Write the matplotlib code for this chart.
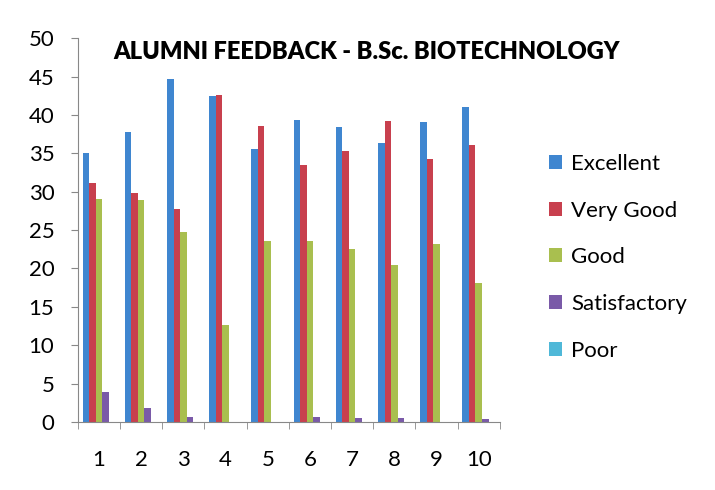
import numpy as np
import matplotlib
matplotlib.use("Agg")
import matplotlib.pyplot as plt

# --- data ---
categories = ["1", "2", "3", "4", "5", "6", "7", "8", "9", "10"]
excellent = [35.0, 37.8, 44.7, 42.5, 35.6, 39.4, 38.4, 36.3, 39.1, 41.0]
very_good = [31.1, 29.8, 27.8, 42.6, 38.6, 33.5, 35.3, 39.2, 34.2, 36.1]
good = [29.0, 28.9, 24.7, 12.6, 23.6, 23.6, 22.5, 20.5, 23.2, 18.1]
satisfactory = [3.9, 1.8, 0.7, 0.0, 0.0, 0.6, 0.5, 0.5, 0.0, 0.4]
poor = [0, 0, 0, 0, 0, 0, 0, 0, 0, 0]

series_names = ["Excellent", "Very Good", "Good", "Satisfactory", "Poor"]
series_colors = ["#3f86d0", "#c8404e", "#a9bf4f", "#7a5aa8", "#4fb8d8"]

plt.rcParams['font.family'] = ['Lato', 'DejaVu Sans']

fig = plt.figure(figsize=(7.15, 4.9), dpi=100)
ax = fig.add_axes([0.109, 0.139, 0.59, 0.783])

x = np.arange(len(categories))
width = 0.155
all_series = [excellent, very_good, good, satisfactory, poor]
for i, (vals, name, col) in enumerate(zip(all_series, series_names, series_colors)):
    ax.bar(x + (i - 2) * width, vals, width, color=col, label=name)

ax.set_xlim(-0.5, len(categories) - 0.5)
ax.set_ylim(0, 50)
ax.set_yticks(range(0, 51, 5))
ax.set_xticks(x)
ax.set_xticklabels(categories)
# tick marks between categories, like Excel
ax.set_xticks(np.arange(-0.5, len(categories), 1), minor=True)
ax.tick_params(axis='x', which='major', length=0, pad=20, labelsize=16)
ax.tick_params(axis='x', which='minor', length=5, color='#888888')
ax.tick_params(axis='y', length=5, color='#888888', labelsize=16, pad=12)

for side in ['top', 'right']:
    ax.spines[side].set_visible(False)
for side in ['left', 'bottom']:
    ax.spines[side].set_color('#888888')

fig.text(0.512, 0.893, "ALUMNI FEEDBACK - B.Sc. BIOTECHNOLOGY",
         ha='center', va='center', fontsize=17, fontweight='heavy')

leg = fig.legend(loc='center left', bbox_to_anchor=(0.74, 0.475),
                 frameon=False, handlelength=0.6, handleheight=0.6,
                 handletextpad=0.4, labelspacing=1.2, prop={'size': 16})

plt.savefig("out.png", dpi=100)
